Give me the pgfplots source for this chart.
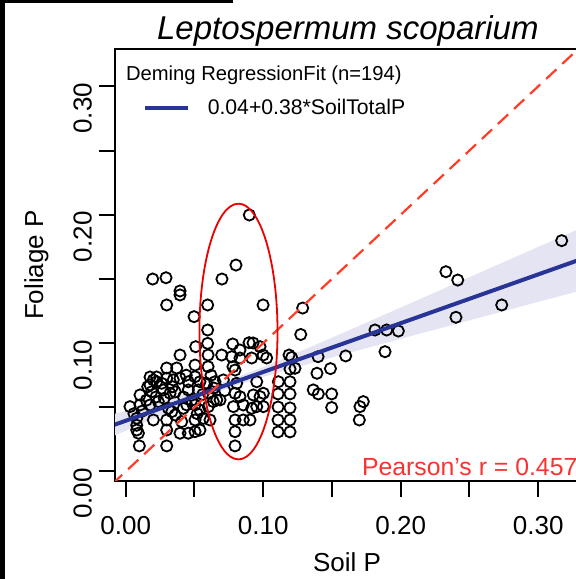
\documentclass[border=0pt]{standalone}
\usepackage{fontspec}
\setmainfont{Liberation Sans}
\usepackage{pgfplots}
\usepackage{pgfplotstable}
\pgfplotsset{compat=1.18}
\definecolor{dblue}{RGB}{40,52,150}
\definecolor{bandc}{RGB}{228,228,242}
\definecolor{dred}{RGB}{255,60,40}
\definecolor{ered}{RGB}{235,0,0}
\definecolor{pred}{RGB}{250,50,50}

\pgfplotstableread{
x y
0.0899 0.1998
0.0802 0.1608
0.0700 0.1499
0.0196 0.1499
0.0293 0.1509
0.0395 0.1406
0.0395 0.1375
0.0298 0.1297
0.0596 0.1297
0.0999 0.1297
0.0497 0.1206
0.0596 0.1102
0.1287 0.1273
0.1273 0.1067
0.0596 0.0998
0.0509 0.0972
0.0778 0.0993
0.0897 0.1003
0.0926 0.1001
0.0977 0.0972
0.0831 0.0946
0.0395 0.0907
0.0599 0.0907
0.0698 0.0907
0.0771 0.0894
0.0831 0.0884
0.0916 0.0884
0.0999 0.0907
0.1025 0.0884
0.1188 0.0907
0.1207 0.0888
0.1399 0.0894
0.1600 0.0900
0.0298 0.0806
0.0371 0.0806
0.0504 0.0829
0.0599 0.0816
0.0780 0.0816
0.0795 0.0790
0.1195 0.0798
0.1231 0.0804
0.1391 0.0765
0.1489 0.0801
0.0177 0.0736
0.0225 0.0736
0.0201 0.0713
0.0225 0.0699
0.0298 0.0726
0.0177 0.0674
0.0262 0.0687
0.0346 0.0713
0.0395 0.0726
0.0455 0.0699
0.0504 0.0738
0.0540 0.0699
0.0589 0.0687
0.0649 0.0699
0.0710 0.0713
0.0807 0.0687
0.0953 0.0699
0.1110 0.0699
0.1195 0.0699
0.0104 0.0596
0.0189 0.0621
0.0273 0.0635
0.0322 0.0609
0.0455 0.0635
0.0528 0.0635
0.0601 0.0609
0.0662 0.0557
0.0795 0.0609
0.0831 0.0583
0.0928 0.0596
0.0977 0.0583
0.1001 0.0609
0.1108 0.0604
0.1195 0.0604
0.1364 0.0635
0.1401 0.0604
0.1498 0.0604
0.0031 0.0505
0.0104 0.0518
0.0177 0.0518
0.0237 0.0544
0.0310 0.0492
0.0335 0.0466
0.0419 0.0492
0.0444 0.0518
0.0504 0.0518
0.0540 0.0479
0.0601 0.0505
0.0637 0.0544
0.0686 0.0557
0.0783 0.0505
0.0855 0.0518
0.0916 0.0492
0.0953 0.0505
0.1001 0.0505
0.1108 0.0502
0.1195 0.0495
0.1498 0.0498
0.0080 0.0414
0.0201 0.0401
0.0298 0.0401
0.0407 0.0388
0.0504 0.0401
0.0564 0.0414
0.0613 0.0401
0.0795 0.0401
0.0855 0.0401
0.0904 0.0401
0.1108 0.0401
0.1195 0.0401
0.0080 0.0323
0.0092 0.0298
0.0298 0.0323
0.0395 0.0298
0.0455 0.0298
0.0504 0.0310
0.0540 0.0323
0.0795 0.0310
0.1108 0.0308
0.1195 0.0308
0.0099 0.0199
0.0298 0.0199
0.0795 0.0199
0.3171 0.1798
0.2329 0.1556
0.2415 0.1491
0.2735 0.1297
0.2402 0.1201
0.1813 0.1102
0.1898 0.1102
0.1983 0.1094
0.1886 0.0933
0.1728 0.0544
0.1704 0.0505
0.1699 0.0401
0.0060 0.0450
0.0120 0.0470
0.0150 0.0555
0.0220 0.0580
0.0280 0.0570
0.0360 0.0620
0.0420 0.0580
0.0480 0.0555
0.0560 0.0600
0.0640 0.0650
0.0720 0.0630
0.0160 0.0660
0.0340 0.0660
0.0440 0.0750
0.0620 0.0750
0.0080 0.0360
0.0360 0.0440
0.0520 0.0450
}\pts

\pgfplotstableread{
x y
-0.010 0.0443
0.020 0.0531
0.050 0.0623
0.075 0.0710
0.100 0.0813
0.150 0.1042
0.200 0.1277
0.250 0.1513
0.300 0.1749
0.340 0.1939
0.340 0.1435
0.300 0.1321
0.250 0.1177
0.200 0.1033
0.150 0.0888
0.100 0.0737
0.075 0.0650
0.050 0.0547
0.020 0.0411
-0.010 0.0271
}\band

\pgfplotstableread{
x y
-0.010 0.0357
0.340 0.1687
}\fit

\pgfplotstableread{
x y
-0.010 -0.010
0.340 0.340
}\diag

\begin{document}
\begin{tikzpicture}[x=1pt,y=1pt]
\begin{axis}[
  at={(57.5pt,49.15pt)}, anchor=south west,
  scale only axis, width=235.65pt, height=215.85pt,
  xmin=-0.0078, xmax=0.335, ymin=-0.0072, ymax=0.3291,
  axis line style={line width=1pt},
  tick align=outside, tick pos=left, major tick length=8pt,
  every tick/.style={black, line width=1pt},
  xtick={0,0.05,0.1,0.15,0.2,0.25,0.3},
  xticklabels={0.00,,0.10,,0.20,,0.30},
  ytick={0,0.05,0.1,0.15,0.2,0.25,0.3},
  yticklabels={0.00,,0.10,,0.20,,0.30},
  tick label style={font=\fontsize{13}{15}\selectfont},
  yticklabel style={rotate=90, anchor=south, xshift=-11pt},
  xticklabel style={anchor=north, yshift=-6.5pt},
  clip mode=individual,
]
\addplot[fill=bandc, draw=none] table {\band};
\addplot[only marks, mark=o, mark size=2.8pt, mark options={line width=0.9pt, black}] table {\pts};
\addplot[dblue, line width=2pt] table {\fit};
\addplot[dred, line width=1.1pt, dash pattern=on 7pt off 4pt] table {\diag};
\draw[ered, line width=0.9pt] (axis cs:0.082,0.109) ellipse [x radius=0.0284, y radius=0.0996];
\draw[dblue, line width=2.2pt] (rel axis cs:0.0637,0.864) -- (rel axis cs:0.155,0.864);
\node[anchor=base west, inner sep=0pt, font=\fontsize{10.1}{12}\selectfont] at (rel axis cs:0.0227,0.927) {Deming RegressionFit (n=194)};
\node[anchor=base west, inner sep=0pt, font=\fontsize{10.6}{12}\selectfont] at (rel axis cs:0.196,0.848) {0.04+0.38*SoilTotalP};
\node[anchor=base west, inner sep=0pt, text=pred, font=\fontsize{12.4}{14}\selectfont] at (rel axis cs:0.5234,0.0132) {Pearson's r = 0.457};
\end{axis}
\node[anchor=base west, inner sep=0pt, font=\fontsize{16.5}{19}\selectfont\itshape] at (78.35,269.5) {Leptospermum scoparium};
\node[anchor=base, inner sep=0pt, font=\fontsize{13}{15}\selectfont] at (173.5,4) {Soil P};
\node[anchor=base, inner sep=0pt, rotate=90, font=\fontsize{13}{15}\selectfont] at (21.5,157) {Foliage P};
\fill[black] (0,0) rectangle (2.5,289.5);
\fill[black] (0,288) rectangle (116.5,289.5);
\pgfresetboundingbox
\path (0,0) rectangle (288,289.5);
\end{tikzpicture}
\end{document}
